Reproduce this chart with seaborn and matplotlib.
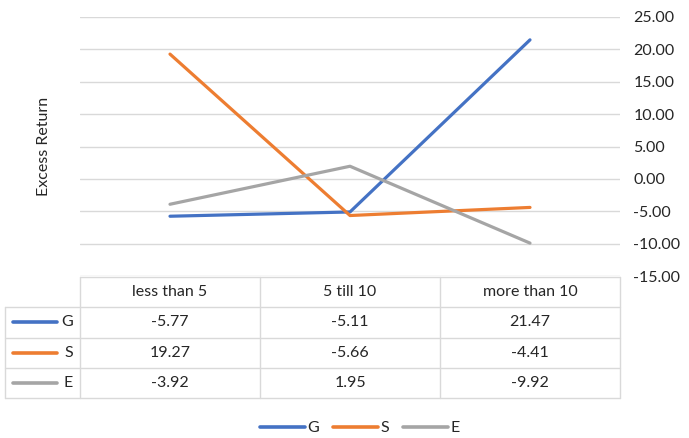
import matplotlib
matplotlib.use("Agg")
import pandas as pd
import seaborn as sns
from matplotlib import pyplot as plt
from matplotlib.lines import Line2D
from matplotlib.ticker import FormatStrFormatter, MultipleLocator

categories = ["less than 5", "5 till 10", "more than 10"]
series = ["G", "S", "E"]
g_values = [-5.77, -5.11, 21.47]
s_values = [19.27, -5.66, -4.41]
e_values = [-3.92, 1.95, -9.92]
y_ticks = [-15, 25, 5]

PALETTE = {"G": "#4472C4", "S": "#ED7D31", "E": "#A5A5A5"}
GRID = "#d9d9d9"
TEXT = "#262626"
FS = 11.5

values = {"G": g_values, "S": s_values, "E": e_values}
df = pd.DataFrame(
    [(c, s, v) for s in series for c, v in zip(categories, values[s])],
    columns=["Bucket", "Series", "Excess Return"],
)

sns.set_style("white")
plt.rcParams["font.family"] = ["Lato", "DejaVu Sans"]
plt.rcParams["font.size"] = FS

W, H = 689, 438
fig = plt.figure(figsize=(W / 100, H / 100), dpi=100)
ax = fig.add_axes([80 / W, 1 - 276 / H, 540 / W, 259 / H])

sns.lineplot(
    data=df,
    x="Bucket",
    y="Excess Return",
    hue="Series",
    hue_order=series,
    palette=PALETTE,
    sort=False,
    linewidth=2.3,
    legend=False,
    ax=ax,
)

ax.set_xlim(-0.5, len(categories) - 0.5)
ax.set_ylim(y_ticks[0], y_ticks[1])
ax.yaxis.set_major_locator(MultipleLocator(y_ticks[2]))
ax.yaxis.set_major_formatter(FormatStrFormatter("%.2f"))
ax.yaxis.tick_right()
ax.tick_params(axis="y", length=0, pad=9.5, labelsize=FS, labelcolor=TEXT)
ax.set_xticks([])
ax.set_xlabel("")
ax.yaxis.set_label_position("left")
ax.set_ylabel("Excess Return", fontsize=FS, color=TEXT)
ax.yaxis.set_label_coords(-29 / 540, 0.5)
ax.grid(axis="y", color=GRID, linewidth=1)
ax.set_axisbelow(True)
for sp in ax.spines.values():
    sp.set_visible(False)

# data table below the plot
tab = fig.add_axes([5 / W, 1 - 398 / H, 615 / W, 121 / H])
lab_w = 75 / 180
n = len(categories)
tab.set_xlim(-0.5 - lab_w, n - 0.5)
tab.set_ylim(len(series) + 1, 0)
tab.axis("off")

kw = dict(color=GRID, linewidth=1, clip_on=False)
tab.plot([-0.5, n - 0.5], [0, 0], **kw)
for r in range(1, len(series) + 2):
    tab.plot([-0.5 - lab_w, n - 0.5], [r, r], **kw)
for c in range(n + 1):
    tab.plot([c - 0.5, c - 0.5], [0, len(series) + 1], **kw)
tab.plot([-0.5 - lab_w, -0.5 - lab_w], [1, len(series) + 1], **kw)

for i, cat in enumerate(categories):
    tab.text(i, 0.5, cat, ha="center", va="center", color=TEXT, fontsize=FS)
for r, s in enumerate(series, start=1):
    tab.plot([-0.5 - lab_w + 0.045, -0.5 - 0.13], [r + 0.5, r + 0.5],
             color=PALETTE[s], linewidth=2.6, solid_capstyle="round")
    tab.text(-0.5 - 0.04, r + 0.5, s, ha="right", va="center", color=TEXT, fontsize=FS)
    for i, v in enumerate(values[s]):
        tab.text(i, r + 0.5, f"{v:.2f}", ha="center", va="center", color=TEXT, fontsize=FS)

handles = [Line2D([], [], color=PALETTE[s], linewidth=2.6, solid_capstyle="round") for s in series]
fig.legend(
    handles=handles,
    labels=series,
    loc="center",
    bbox_to_anchor=(360 / W, 1 - 428 / H),
    ncol=3,
    frameon=False,
    handlelength=2.8,
    handletextpad=0.15,
    columnspacing=0.9,
    fontsize=FS,
    labelcolor=TEXT,
)

fig.savefig("out.png", dpi=100)
